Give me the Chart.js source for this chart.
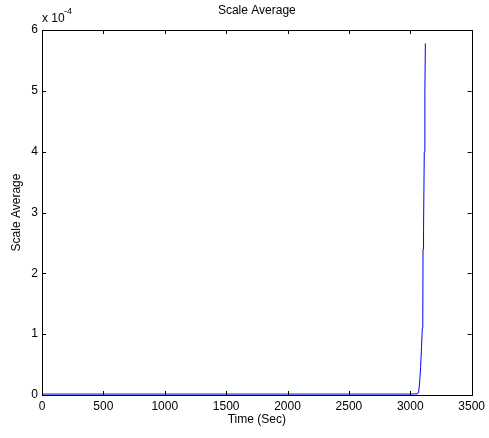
<!DOCTYPE html>
<html>
<head>
<meta charset="utf-8">
<script src="https://cdn.jsdelivr.net/npm/chart.js@4/dist/chart.umd.min.js"></script>
<style>
  html, body { margin: 0; padding: 0; background: #fff; }
  #wrap { width: 489px; height: 438px; position: relative; }
</style>
</head>
<body>
<div id="wrap"><canvas id="c" width="489" height="438"></canvas></div>
<script>
// Data
const timeSec = [0, 500, 1000, 1500, 2000, 2500, 3000, 3060, 3068, 3076, 3084, 3092, 3098, 3102, 3104, 3108, 3114, 3119, 3123];
const scaleAverage = [1.5e-6, 1.5e-6, 1.5e-6, 1.5e-6, 1.5e-6, 1.5e-6, 1.5e-6, 2e-6, 5e-6, 2e-5, 4.5e-5, 8e-5, 1.1e-4, 1.15e-4, 2.4e-4, 2.7e-4, 4.0e-4, 5.0e-4, 5.78e-4];
const xTicks = [0, 500, 1000, 1500, 2000, 2500, 3000, 3500];
const yTicks = [0, 1e-4, 2e-4, 3e-4, 4e-4, 5e-4, 6e-4];
const chartTitle = 'Scale Average';
const xTitle = 'Time (Sec)';
const yTitle = 'Scale Average';

const FONT = 'Liberation Sans, Arial, sans-serif';
const FS = 12;

const matlabPlugin = {
  id: 'matlab',
  afterDraw(chart) {
    const { ctx, chartArea: a, scales } = chart;
    const x = scales.x, y = scales.y;
    ctx.save();
    ctx.strokeStyle = '#000';
    ctx.lineWidth = 1;
    const tl = 4;
    ctx.beginPath();
    xTicks.forEach(v => {
      const px = Math.round(x.getPixelForValue(v)) + 0.5;
      ctx.moveTo(px, a.bottom); ctx.lineTo(px, a.bottom - tl);
      ctx.moveTo(px, a.top); ctx.lineTo(px, a.top + tl);
    });
    yTicks.forEach(v => {
      const py = Math.round(y.getPixelForValue(v)) + 0.5;
      ctx.moveTo(a.left, py); ctx.lineTo(a.left + tl, py);
      ctx.moveTo(a.right, py); ctx.lineTo(a.right - tl, py);
    });
    ctx.stroke();
    ctx.strokeRect(Math.round(a.left) + 0.5, Math.round(a.top) + 0.5, Math.round(a.right - a.left), Math.round(a.bottom - a.top));
    // title
    ctx.fillStyle = '#000';
    ctx.font = FS + 'px ' + FONT;
    ctx.textAlign = 'center';
    ctx.textBaseline = 'middle';
    ctx.fillText(chartTitle, (a.left + a.right) / 2, 11);
    // exponent
    ctx.textAlign = 'left';
    ctx.textBaseline = 'alphabetic';
    ctx.fillText('x 10', 42, 22);
    ctx.font = '9px ' + FONT;
    ctx.fillText('-4', 64, 14);
    ctx.restore();
  }
};

new Chart(document.getElementById('c'), {
  type: 'scatter',
  data: {
    datasets: [{
      data: timeSec.map((t, i) => ({ x: t, y: scaleAverage[i] })),
      showLine: true,
      borderColor: '#0000ff',
      borderWidth: 1,
      pointRadius: 0,
      tension: 0,
      fill: false
    }]
  },
  options: {
    responsive: false,
    animation: false,
    events: [],
    layout: { padding: { top: 30, right: 14, left: 0, bottom: 0 } },
    plugins: {
      legend: { display: false },
      title: { display: false },
      tooltip: { enabled: false }
    },
    scales: {
      x: {
        type: 'linear',
        min: 0, max: 3500,
        afterBuildTicks(s) { s.ticks = xTicks.map(v => ({ value: v })); },
        afterFit(s) { s.height = 43; },
        grid: { display: false, drawTicks: false },
        border: { display: false },
        ticks: { color: '#000', font: { family: FONT, size: FS }, padding: 4, maxRotation: 0,
          callback: v => String(v) },
        title: { display: true, text: xTitle, color: '#000', font: { family: FONT, size: FS }, padding: { top: 0, bottom: 11 } }
      },
      y: {
        type: 'linear',
        min: 0, max: 6e-4,
        afterBuildTicks(s) { s.ticks = yTicks.map(v => ({ value: v })); },
        afterFit(s) { s.width = 42; },
        grid: { display: false, drawTicks: false },
        border: { display: false },
        ticks: { color: '#000', font: { family: FONT, size: FS }, padding: 4,
          callback: v => String(Math.round(v * 1e4)) },
        title: { display: true, text: yTitle, color: '#000', font: { family: FONT, size: FS }, padding: { top: 9, bottom: 0 } }
      }
    }
  },
  plugins: [matlabPlugin]
});
</script>
</body>
</html>
